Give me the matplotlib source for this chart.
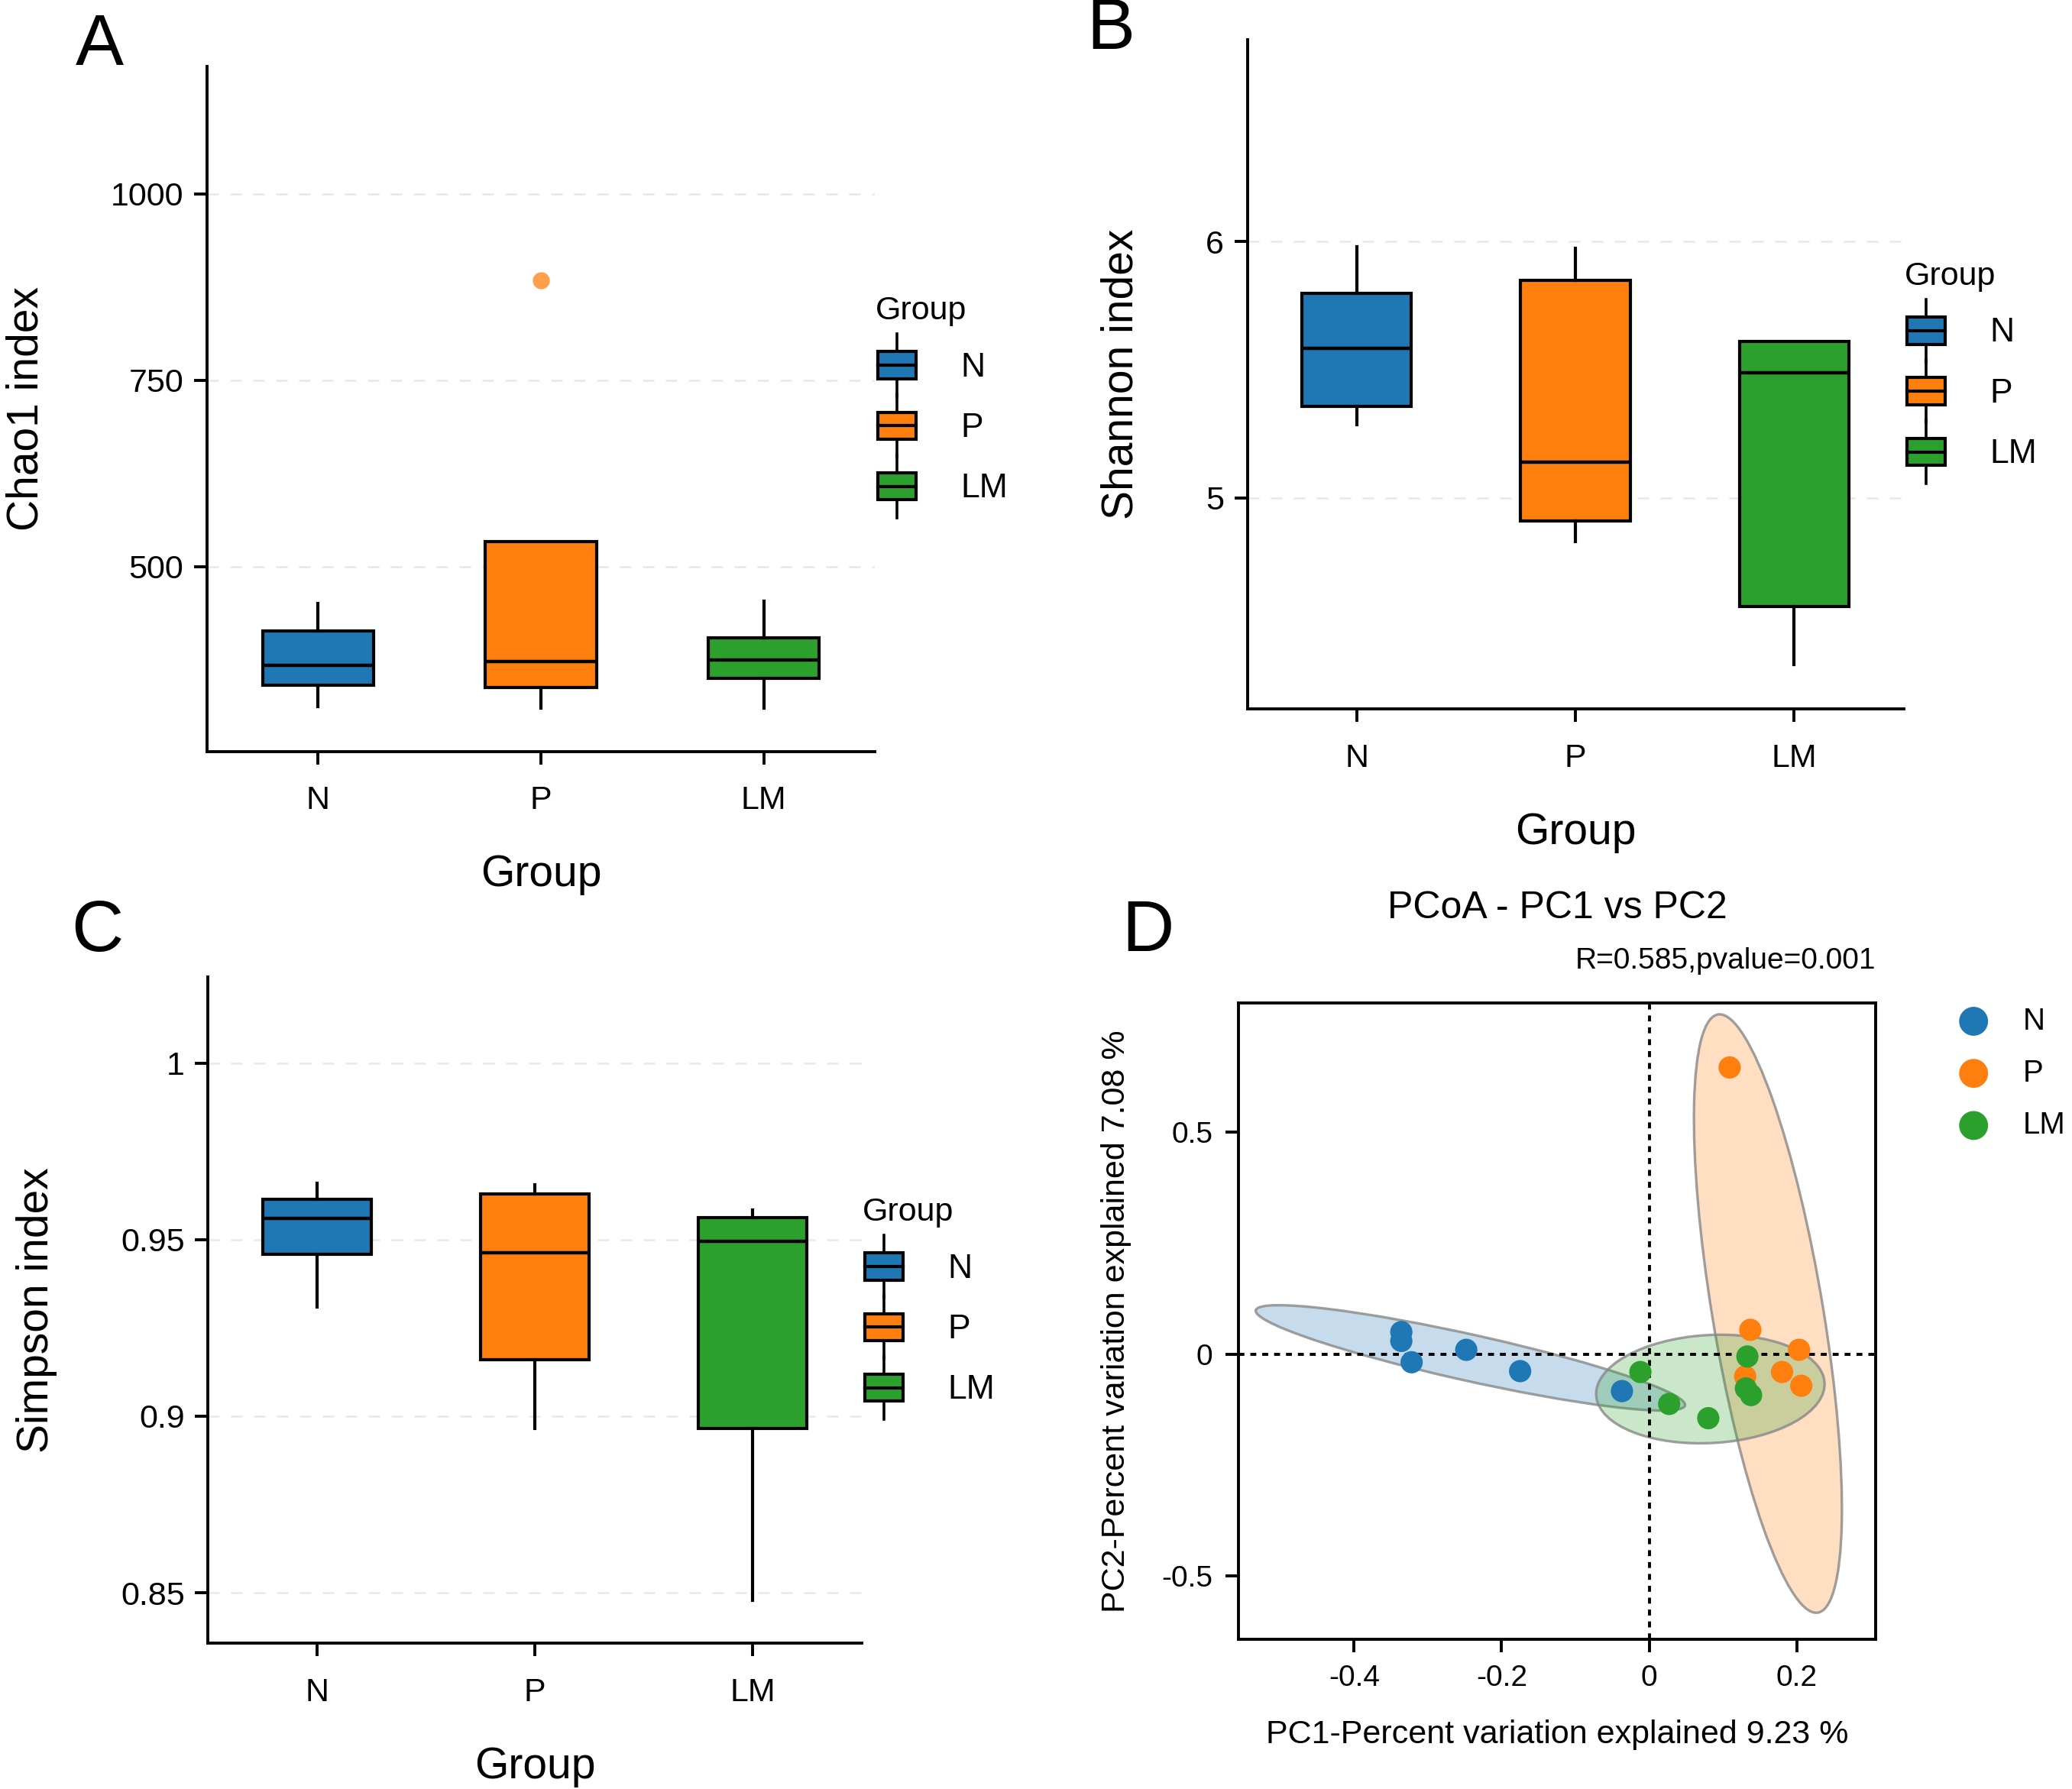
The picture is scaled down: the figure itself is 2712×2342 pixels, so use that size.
import numpy as np
import matplotlib
matplotlib.use("Agg")
import matplotlib.pyplot as plt
from matplotlib.patches import Patch, Rectangle, Ellipse
from matplotlib.lines import Line2D
from matplotlib.legend_handler import HandlerBase

plt.rcParams['font.family'] = ['Liberation Sans', 'DejaVu Sans']

groups = ["N", "P", "LM"]
colors = ["#1f77b4", "#ff7f0e", "#2ca02c"]

# box statistics: (whislo, q1, med, q3, whishi)
chao1_stats = [(312, 341, 367, 414, 450), (310, 338, 373, 533, 533), (310, 350, 375, 404, 453)]
chao1_fliers = [[], [884], []]
shannon_stats = [(5.285, 5.357, 5.585, 5.80, 5.98), (4.83, 4.91, 5.14, 5.85, 5.975),
                 (4.35, 4.575, 5.487, 5.61, 5.61)]
simpson_stats = [(0.931, 0.9459, 0.956, 0.9613, 0.9659), (0.8966, 0.916, 0.9463, 0.9629, 0.9655),
                 (0.8478, 0.8966, 0.9496, 0.9563, 0.9584)]

# PCoA coordinates
pc1_N = [-0.336, -0.336, -0.322, -0.248, -0.175, -0.037]
pc2_N = [0.050, 0.030, -0.018, 0.010, -0.038, -0.083]
pc1_P = [0.109, 0.137, 0.203, 0.180, 0.130, 0.206]
pc2_P = [0.646, 0.055, 0.010, -0.040, -0.050, -0.071]
pc1_LM = [-0.012, 0.027, 0.080, 0.133, 0.131, 0.138]
pc2_LM = [-0.040, -0.112, -0.144, -0.005, -0.077, -0.092]


class BoxHandler(HandlerBase):
    # ggplot-like boxplot key
    def create_artists(self, legend, orig_handle, xdescent, ydescent, width, height, fontsize, trans):
        fc = orig_handle.get_facecolor()
        cx = width / 2 - xdescent
        cy = height / 2 - ydescent
        bw = width * 0.9
        bh = height * 0.62
        whisk = Line2D([cx, cx], [cy - height * 0.72, cy + height * 0.72], color="black", lw=1.3, transform=trans)
        rect = Rectangle((cx - bw / 2, cy - bh / 2), bw, bh, facecolor=fc, edgecolor="black", lw=1.5, transform=trans)
        med = Line2D([cx - bw / 2, cx + bw / 2], [cy, cy], color="black", lw=1.5, transform=trans)
        return [whisk, rect, med]


def box_panel(ax, stats_list, ylabel, yticks, yticklabels, ylim, fliers=None):
    stats = []
    for i, s in enumerate(stats_list):
        stats.append(dict(whislo=s[0], q1=s[1], med=s[2], q3=s[3], whishi=s[4],
                          fliers=(fliers[i] if fliers else [])))
    bp = ax.bxp(stats, positions=[1, 2, 3], widths=0.5, patch_artist=True, showcaps=False,
                medianprops=dict(color="black", lw=1.6),
                whiskerprops=dict(color="black", lw=1.5),
                boxprops=dict(edgecolor="black", lw=1.5),
                flierprops=dict(marker="o", markersize=8, markeredgecolor="none", alpha=0.75))
    for patch, c in zip(bp["boxes"], colors):
        patch.set_facecolor(c)
    for fl, c in zip(bp["fliers"], colors):
        fl.set_markerfacecolor(c)
    ax.set_xlim(0.5, 3.5)
    ax.set_ylim(*ylim)
    ax.set_yticks(yticks)
    ax.set_yticklabels(yticklabels)
    ax.set_xticks([1, 2, 3])
    ax.set_xticklabels(groups)
    ax.spines["top"].set_visible(False)
    ax.spines["right"].set_visible(False)
    for sp in ["left", "bottom"]:
        ax.spines[sp].set_linewidth(1.4)
    ax.tick_params(axis="both", length=6, width=1.4, labelsize=15.5, pad=5)
    ax.tick_params(axis="x", pad=10)
    ax.yaxis.grid(True, color="#e8e8e8", ls=(0, (6, 6)), lw=0.9)
    ax.set_axisbelow(True)
    ax.set_xlabel("Group", fontsize=20.5, labelpad=18)
    ax.set_ylabel(ylabel, fontsize=20.5, labelpad=30)
    handles = [Patch(facecolor=c, edgecolor="black", label=g) for g, c in zip(groups, colors)]
    ax.legend(handles=handles, handler_map={Patch: BoxHandler()}, title="Group", loc="center left",
              bbox_to_anchor=(0.955, 0.51), frameon=False, fontsize=16, title_fontsize=15.5,
              handlelength=1.25, handleheight=1.6, handletextpad=1.25, labelspacing=0.5,
              alignment="left")


fig = plt.figure(figsize=(13.56, 11.71), dpi=200)

axA = fig.add_axes([0.0998, 0.58, 0.3225, 0.383])
box_panel(axA, chao1_stats, "Chao1 index", [500, 750, 1000], ["500", "750", "1000"], (252, 1171),
          fliers=chao1_fliers)

axB = fig.add_axes([0.602, 0.6037, 0.3167, 0.3743])
box_panel(axB, shannon_stats, "Shannon index", [5, 6], ["5", "6"], (4.176, 6.79))

axC = fig.add_axes([0.1004, 0.0815, 0.3154, 0.3725])
box_panel(axC, simpson_stats, "Simpson index", [0.85, 0.9, 0.95, 1.0], ["0.85", "0.9", "0.95", "1"],
          (0.8357, 1.0244))

# panel D
axD = fig.add_axes([0.5976, 0.0837, 0.3077, 0.3556])
pcoa = [(pc1_N, pc2_N), (pc1_P, pc2_P), (pc1_LM, pc2_LM)]
r = np.sqrt(5.991)
for (x, y), c in zip(pcoa, colors):
    x = np.asarray(x)
    y = np.asarray(y)
    cov = np.cov(x, y)
    vals, vecs = np.linalg.eigh(cov)
    ang = np.degrees(np.arctan2(vecs[1, 1], vecs[0, 1]))
    ell = Ellipse((x.mean(), y.mean()), 2 * r * np.sqrt(vals[1]), 2 * r * np.sqrt(vals[0]), angle=ang,
                  facecolor=c, alpha=0.25, edgecolor="none", zorder=1)
    axD.add_patch(ell)
    ell2 = Ellipse((x.mean(), y.mean()), 2 * r * np.sqrt(vals[1]), 2 * r * np.sqrt(vals[0]), angle=ang,
                   facecolor="none", edgecolor="#888888", lw=1.2, alpha=0.8, zorder=1)
    axD.add_patch(ell2)
for (x, y), c, g in zip(pcoa, colors, groups):
    axD.scatter(x, y, s=110, color=c, edgecolor="none", zorder=3, label=g)
axD.axhline(0, color="black", ls=(0, (2, 2)), lw=1.4, zorder=2)
axD.axvline(0, color="black", ls=(0, (2, 2)), lw=1.4, zorder=2)
axD.set_xlim(-0.557, 0.307)
axD.set_ylim(-0.642, 0.791)
axD.set_xticks([-0.4, -0.2, 0, 0.2])
axD.set_xticklabels(["-0.4", "-0.2", "0", "0.2"])
axD.set_yticks([-0.5, 0, 0.5])
axD.set_yticklabels(["-0.5", "0", "0.5"])
for sp in axD.spines.values():
    sp.set_linewidth(1.4)
axD.tick_params(axis="both", length=6, width=1.4, labelsize=14, pad=6)
axD.set_xlabel("PC1-Percent variation explained 9.23 %", fontsize=15.5, labelpad=13)
axD.set_ylabel("PC2-Percent variation explained 7.08 %", fontsize=15.5, labelpad=14)
axD.set_title("PCoA - PC1 vs PC2", fontsize=18, pad=40, x=0.5)
axD.text(1.0, 1.045, "R=0.585,pvalue=0.001", transform=axD.transAxes, ha="right", va="bottom", fontsize=14)
axD.legend(loc="center left", bbox_to_anchor=(1.11, 0.89), frameon=False, fontsize=14.5,
           markerscale=1.3, handlelength=1.0, handletextpad=1.1, labelspacing=0.75, scatterpoints=1,
           borderaxespad=0)

# panel letters
fig.text(0.048, 0.974, "A", fontsize=34, va="center", ha="center")
fig.text(0.536, 0.983, "B", fontsize=34, va="center", ha="center")
fig.text(0.047, 0.479, "C", fontsize=34, va="center", ha="center")
fig.text(0.554, 0.479, "D", fontsize=34, va="center", ha="center")

fig.savefig("out.png", dpi=200)
